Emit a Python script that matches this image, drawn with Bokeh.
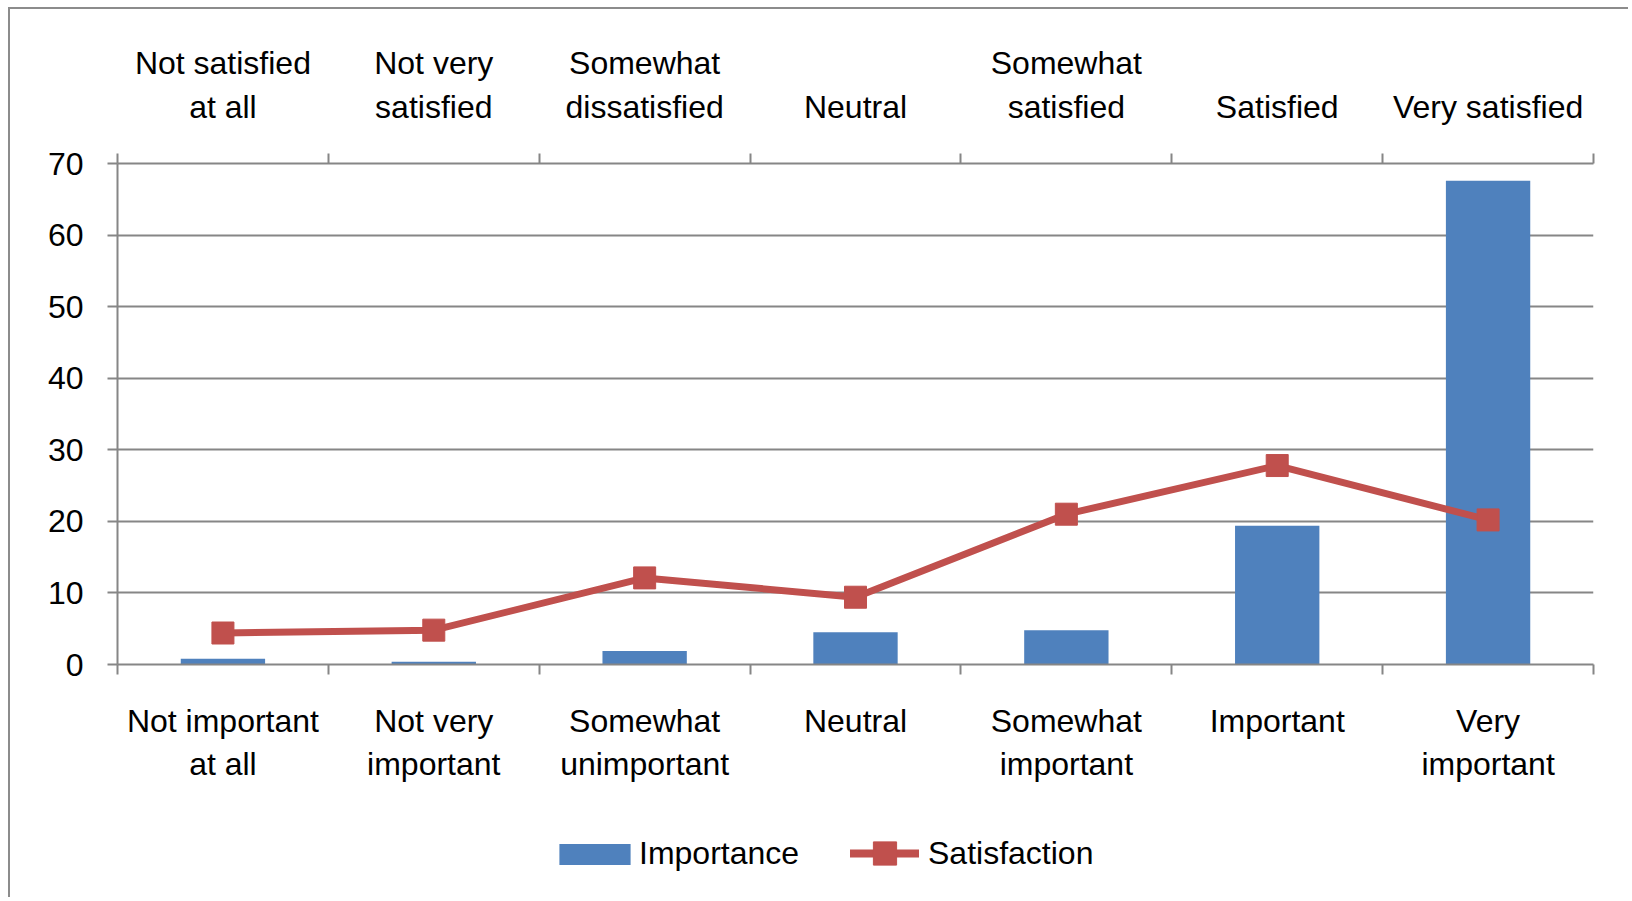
from bokeh.plotting import figure
from bokeh.layouts import column
from bokeh.models import FixedTicker, LinearAxis, Range1d, Legend, LegendItem
from bokeh.embed import file_html
from bokeh.resources import INLINE

# ---- data ----
importance_labels = ["Not important\nat all", "Not very\nimportant", "Somewhat\nunimportant",
                     "Neutral", "Somewhat\nimportant", "Important", "Very\nimportant"]
satisfaction_labels = ["Not satisfied\nat all", "Not very\nsatisfied", "Somewhat\ndissatisfied",
                       "Neutral", "Somewhat\nsatisfied", "Satisfied", "Very satisfied"]
importance = [0.8, 0.4, 1.9, 4.5, 4.8, 19.4, 67.6]
satisfaction = [4.4, 4.8, 12.1, 9.4, 21.0, 27.8, 20.2]
y_ticks = [0, 10, 20, 30, 40, 50, 60, 70]
series_names = ["Importance", "Satisfaction"]

FONT = "Liberation Sans"
FS = "32px"
GRAY = "#868686"
BORDER = "2px solid #8c8c8c"
BLUE = "#4F81BD"
RED = "#C0504D"

n = len(importance)
xs = list(range(n))
centers = xs
bounds = [i - 0.5 for i in range(n + 1)]

# ---- main chart ----
p = figure(width=1620, height=790, x_range=Range1d(-0.5, n - 0.5), y_range=Range1d(0, 70),
           output_backend="svg", toolbar_location=None,
           min_border_left=107, min_border_right=37, min_border_top=154, min_border_bottom=135)
p.outline_line_color = None
p.styles = {"border-left": BORDER, "border-top": BORDER}

p.vbar(x=xs, top=importance, width=0.4, fill_color=BLUE, line_color=None)
p.line(xs, satisfaction, line_width=7, line_color=RED)
p.scatter(xs, satisfaction, marker="square", size=22, fill_color=RED, line_color=RED)

xticker = FixedTicker(ticks=centers, minor_ticks=bounds)

def style_x(ax, labels, standoff):
    ax.ticker = xticker
    ax.major_label_overrides = {i: lab for i, lab in enumerate(labels)}
    ax.axis_line_color = GRAY
    ax.axis_line_width = 2
    ax.major_tick_line_color = None
    ax.major_tick_out = 0
    ax.major_tick_in = 0
    ax.minor_tick_line_color = GRAY
    ax.minor_tick_line_width = 2
    ax.minor_tick_out = 10
    ax.minor_tick_in = 0
    ax.major_label_text_font = FONT
    ax.major_label_text_font_size = FS
    ax.major_label_text_color = "black"
    ax.major_label_standoff = standoff

style_x(p.xaxis[0], importance_labels, 28)
xt = LinearAxis()
style_x(xt, satisfaction_labels, 29)
p.add_layout(xt, "above")

ya = p.yaxis[0]
ya.ticker = FixedTicker(ticks=y_ticks)
ya.axis_line_color = GRAY
ya.axis_line_width = 2
ya.major_tick_line_color = GRAY
ya.major_tick_line_width = 2
ya.major_tick_out = 10
ya.major_tick_in = 0
ya.minor_tick_line_color = None
ya.major_label_text_font = FONT
ya.major_label_text_font_size = FS
ya.major_label_text_color = "black"
ya.major_label_standoff = 24

p.xgrid.visible = False
p.ygrid.ticker = FixedTicker(ticks=y_ticks)
p.ygrid.grid_line_color = GRAY
p.ygrid.grid_line_width = 2

# ---- legend strip (swatch renderers sit outside the visible range) ----
lf = figure(width=1620, height=100, x_range=Range1d(0, 1), y_range=Range1d(0, 1),
            output_backend="svg", toolbar_location=None,
            x_axis_location=None, y_axis_location=None,
            min_border_left=0, min_border_right=0, min_border_top=0, min_border_bottom=0)
lf.outline_line_color = None
lf.xgrid.visible = False
lf.ygrid.visible = False
lf.styles = {"border-left": BORDER}
lb = lf.vbar(x=[-50], top=[-50], bottom=[-51], width=0.4, fill_color=BLUE, line_color=None)
ll = lf.line([-50, -49], [-50, -50], line_width=8, line_color=RED, line_cap="round")
lm = lf.scatter([-50], [-50], marker="square", size=23, fill_color=RED, line_color=RED)

common = dict(orientation="horizontal", padding=0, margin=0, border_line_color=None,
              background_fill_alpha=0, label_text_font=FONT, label_text_font_size=FS,
              label_text_color="black")
leg1 = Legend(items=[LegendItem(label=series_names[0], renderers=[lb])],
              location=(433, 25), glyph_width=89, glyph_height=26, label_standoff=0, **common)
leg2 = Legend(items=[LegendItem(label=series_names[1], renderers=[ll, lm])],
              location=(733, 15), glyph_width=69, glyph_height=58, label_standoff=9, **common)
lf.add_layout(leg1, "center")
lf.add_layout(leg2, "center")

layout = column(p, lf, spacing=0, styles={"margin-left": "8px", "margin-top": "7px"})

open("out.html", "w").write(file_html(layout, INLINE))
